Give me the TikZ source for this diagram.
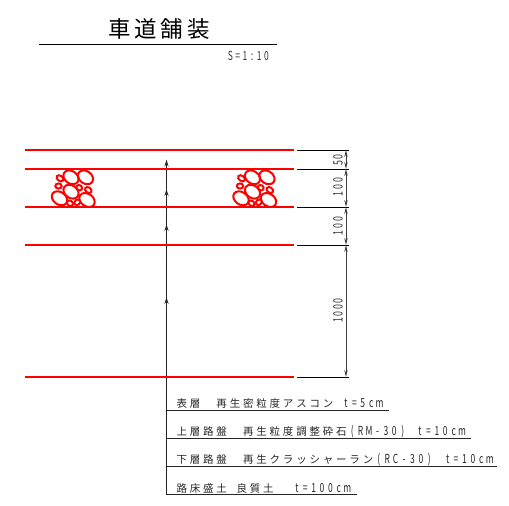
\documentclass[tikz,border=0pt]{standalone}
\usepackage{fontspec}
\usetikzlibrary{arrows.meta}
\newfontfamily\jpf{Noto Sans CJK JP}
\newfontfamily\jpn[FakeStretch=0.68]{Noto Sans CJK JP}
\ExplSyntaxOn
\NewDocumentCommand{\PitchJ}{m}{\tl_map_inline:nn{#1}{\makebox[13.3pt][c]{##1}}}
\NewDocumentCommand{\PitchL}{m}{\tl_map_inline:nn{#1}{\makebox[8.4pt][c]{##1}}}
\NewDocumentCommand{\PitchT}{m}{\tl_map_inline:nn{#1}{\makebox[26.3pt][c]{##1}}}
\NewDocumentCommand{\PitchS}{m}{\tl_map_inline:nn{#1}{\makebox[7.2pt][c]{##1}}}
\NewDocumentCommand{\PitchD}{m}{\tl_map_inline:nn{#1}{\makebox[6.6pt][c]{##1}}}
\ExplSyntaxOff
\newcommand{\J}[1]{{\jpf\fontsize{10.5}{10.5}\selectfont\PitchJ{#1}}}
\newcommand{\Lt}[1]{{\jpn\fontsize{12.5}{12.5}\selectfont\PitchL{#1}}}
\tikzset{
  layer/.style={draw=red,line width=1.5pt},
  ext/.style={draw=black,line width=1pt},
  ldr/.style={draw=black!85,line width=1.2pt},
  ldrar/.style={ldr,-{Stealth[length=7pt,width=4pt]}},
  dimn/.style={draw=black!75,line width=.9pt,{Stealth[length=7pt,width=3.4pt]}-{Stealth[length=7pt,width=3.4pt]}},
  dimtxt/.style={rotate=90,inner sep=0pt,text=black!80,font=\jpn\fontsize{13}{13}\selectfont},
  callout/.style={anchor=base west,inner sep=0pt,text=black!85},
  stone/.style={draw=red,line width=2pt},
}
\begin{document}
\begin{tikzpicture}[x=1pt,y=-1pt]
\useasboundingbox (0,0) rectangle (509,506);
% title
\node[inner sep=0pt] (title) at (159,28.5) {\jpf\fontsize{22.5}{22.5}\selectfont\PitchT{車道舗装}};
\coordinate (tl) at (39,44.5); \coordinate (tr) at (277,44.5);
\draw[draw=black,line width=1.2pt] (tl) -- (tr);
\node[inner sep=0pt,text=black!80] (scale) at (248.5,56) {\jpn\fontsize{12.5}{12.5}\selectfont\PitchS{S=1:10}};
% layers
\coordinate (aL) at (25,150); \coordinate (aR) at (294,150); \coordinate (aX) at (297,150); \coordinate (aY) at (349,150); \coordinate (aD) at (346,150);
\coordinate (bL) at (25,169); \coordinate (bR) at (294,169); \coordinate (bX) at (297,169); \coordinate (bY) at (349,169); \coordinate (bD) at (346,169);
\coordinate (cL) at (25,207); \coordinate (cR) at (294,207); \coordinate (cX) at (297,207); \coordinate (cY) at (349,207); \coordinate (cD) at (346,207);
\coordinate (dL) at (25,245); \coordinate (dR) at (294,245); \coordinate (dX) at (297,245); \coordinate (dY) at (349,245); \coordinate (dD) at (346,245);
\coordinate (eL) at (25,377); \coordinate (eR) at (294,377); \coordinate (eX) at (297,377); \coordinate (eY) at (349,377); \coordinate (eD) at (346,377);
\draw[ext] (aX) -- (aY);
\draw[ext] (bX) -- (bY);
\draw[ext] (cX) -- (cY);
\draw[ext] (dX) -- (dY);
\draw[ext] (eX) -- (eY);
% dimensions
\draw[dimn] (aD) -- (bD);
\draw[dimn] (bD) -- (cD);
\draw[dimn] (cD) -- (dD);
\draw[dimn] (dD) -- (eD);
\node[dimtxt] (d1) at (338,160) {\PitchD{50}};
\node[dimtxt] (d2) at (338,187) {\PitchD{100}};
\node[dimtxt] (d3) at (338,226) {\PitchD{100}};
\node[dimtxt] (d4) at (338,310.5) {\PitchD{1000}};
% leaders
\coordinate (l1) at (166.5,410.5); \coordinate (r1) at (389,410.5);
\coordinate (l2) at (166.5,438.5); \coordinate (r2) at (471,438.5);
\coordinate (l3) at (166.5,466.5); \coordinate (r3) at (497,466.5);
\coordinate (l4) at (166.5,494.5); \coordinate (r4) at (357,494.5);
\coordinate (t1) at (166.5,159.5);
\coordinate (t2) at (166.5,189);
\coordinate (t3) at (166.5,224);
\coordinate (t4) at (166.5,297);
\draw[ldrar] (l1) -- (t1);
\draw[ldrar] (l2) -- (t2);
\draw[ldrar] (l3) -- (t3);
\draw[ldrar] (l4) -- (t4);
\draw[ldr] (l1) -- (r1);
\draw[ldr] (l2) -- (r2);
\draw[ldr] (l3) -- (r3);
\draw[ldr] (l4) -- (r4);
% red layer lines, over the leaders
\draw[layer] (aL) -- (aR);
\draw[layer] (bL) -- (bR);
\draw[layer] (cL) -- (cR);
\draw[layer] (dL) -- (dR);
\draw[layer] (eL) -- (eR);
% stones
\foreach \dx in {0,181.5}{
\begin{scope}[shift={(\dx,0)}]
  \draw[stone,rotate around={-35:(71,177.3)}] (71,177.3) ellipse (8.2 and 6.2);
  \draw[stone,rotate around={-35:(85.5,177.3)}] (85.5,177.3) ellipse (8.2 and 6.2);
  \draw[stone,rotate around={-35:(60,178.3)}] (60,178.3) ellipse (3.8 and 2.6);
  \draw[stone] (58.5,186) ellipse (3.2 and 2.6);
  \draw[stone,rotate around={-35:(71,191.7)}] (71,191.7) ellipse (8.2 and 6.2);
  \draw[stone,rotate around={-35:(79.3,187.7)}] (79.3,187.7) ellipse (3 and 2.6);
  \draw[stone,rotate around={-35:(88.3,190)}] (88.3,190) ellipse (3.6 and 2.6);
  \draw[stone,rotate around={-35:(59.5,198.3)}] (59.5,198.3) ellipse (8.4 and 6.2);
  \draw[stone,rotate around={-35:(87,200)}] (87,200) ellipse (8.4 and 6.2);
  \draw[stone,rotate around={-35:(70,203.3)}] (70,203.3) ellipse (3.2 and 2.6);
  \draw[stone,rotate around={35:(77.3,202.3)}] (77.3,202.3) ellipse (3.2 and 2.6);
\end{scope}}
% callouts
\node[callout] (n1) at (175,407) {\J{表層}\hspace{13.3pt}\J{再生密粒度アスコン}\hspace{7pt}\Lt{t=5cm}};
\node[callout] (n2) at (175,435.5) {\J{上層路盤}\hspace{13.3pt}\J{再生粒度調整砕石}\Lt{(RM-30)}\hspace{9pt}\Lt{t=10cm}};
\node[callout] (n3) at (175,463.8) {\J{下層路盤}\hspace{13.3pt}\J{再生クラッシャーラン}\Lt{(RC-30)}\hspace{10pt}\Lt{t=10cm}};
\node[callout] (n4) at (175,492) {\J{路床盛土}\hspace{6.8pt}\J{良質土}\hspace{17.6pt}\Lt{t=100cm}};
\end{tikzpicture}
\end{document}
